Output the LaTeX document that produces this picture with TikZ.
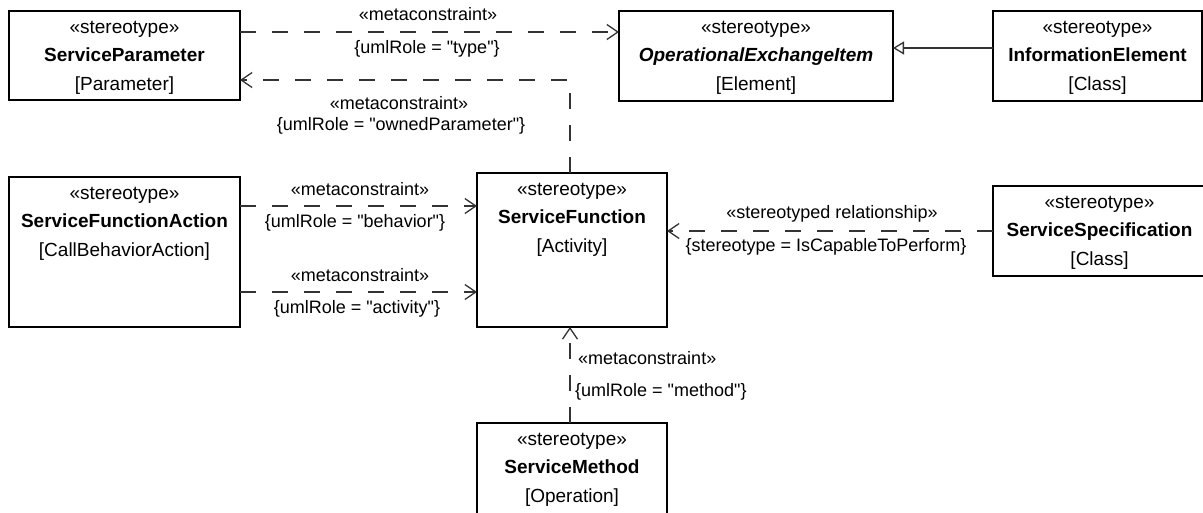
\documentclass[tikz,border=0pt]{standalone}
\usepackage{fontspec}
\setmainfont{Liberation Sans}[Ligatures=TeXOff]
\usetikzlibrary{arrows.meta,calc}
\begin{document}
\begin{tikzpicture}[x=1pt,y=-1pt,
  box/.style={draw=black, line width=1.4pt, rectangle, inner sep=0pt, outer sep=0pt},
  boxtext/.style={anchor=base, inner sep=0pt, font=\fontsize{19}{28.5}\selectfont},
  lbl/.style={inner sep=0pt, font=\fontsize{18}{22}\selectfont},
  dep/.style={draw=black!80, line width=1.3pt, dash pattern=on 16pt off 16pt, -{Straight Barb[length=11pt,width=15pt]}},
  gen/.style={draw=black!80, line width=1.3pt, -{Triangle[open,length=11pt,width=13pt]}}]

\useasboundingbox (0,0) rectangle (1203,512);

% boxes
\node[box, minimum width=231pt, minimum height=89pt] (sp) at (124.5,55.5) {};
\node[box, minimum width=274pt, minimum height=90pt] (oei) at (756,56) {};
\node[box, minimum width=209pt, minimum height=90pt] (ie) at (1097.5,56) {};
\node[box, minimum width=231pt, minimum height=150pt] (sfa) at (124.5,252) {};
\node[box, minimum width=190pt, minimum height=154pt] (sf) at (572,250) {};
\node[box, minimum width=213pt, minimum height=90pt] (ss) at (1099.5,231) {};
\node[box, minimum width=190pt, minimum height=92pt] (sm) at (572,469) {};

% box texts
\node[boxtext] (spT) at ([yshift=-22pt]sp.north) {\begin{tabular}[t]{@{}c@{}}«stereotype»\\\textbf{ServiceParameter}\\ {[Parameter]}\end{tabular}};
\node[boxtext] (oeiT) at ([yshift=-22pt]oei.north) {\begin{tabular}[t]{@{}c@{}}«stereotype»\\\textbf{\textit{OperationalExchangeItem}}\\ {[Element]}\end{tabular}};
\node[boxtext] (ieT) at ([yshift=-22pt]ie.north) {\begin{tabular}[t]{@{}c@{}}«stereotype»\\\textbf{InformationElement}\\ {[Class]}\end{tabular}};
\node[boxtext] (sfaT) at ([yshift=-22pt]sfa.north) {\begin{tabular}[t]{@{}c@{}}«stereotype»\\\textbf{ServiceFunctionAction}\\ {[CallBehaviorAction]}\end{tabular}};
\node[boxtext] (sfT) at ([yshift=-22pt]sf.north) {\begin{tabular}[t]{@{}c@{}}«stereotype»\\\textbf{ServiceFunction}\\ {[Activity]}\end{tabular}};
\node[boxtext] (ssT) at ([yshift=-22pt]ss.north) {\begin{tabular}[t]{@{}c@{}}«stereotype»\\\textbf{ServiceSpecification}\\ {[Class]}\end{tabular}};
\node[boxtext] (smT) at ([yshift=-22pt]sm.north) {\begin{tabular}[t]{@{}c@{}}«stereotype»\\\textbf{ServiceMethod}\\ {[Operation]}\end{tabular}};

% connectors
\draw[dep] ([yshift=-21pt]sp.north east) -- ([yshift=-21pt]oei.north west);
\draw[dep] ([xshift=-2pt]sf.north) |- ([yshift=-69pt]sp.north east);
\draw[dep] ([yshift=-29pt]sfa.north east) -- ([yshift=-33pt]sf.north west);
\draw[dep] ([yshift=-115pt]sfa.north east) -- ([yshift=-119pt]sf.north west);
\draw[dep] ([yshift=-45pt]ss.north west) -- ([yshift=-58pt]sf.north east);
\draw[dep] ([xshift=-2pt]sm.north) -- ([xshift=-2pt]sf.south);
\draw[gen] ([yshift=-37pt]ie.north west) -- ([yshift=-37pt]oei.north east);

% labels
\node[lbl] (l1a) at (428,14) {«metaconstraint»};
\node[lbl] (l1b) at (427,49) {\{umlRole = "type"\}};
\node[lbl] (l2a) at (399,103) {«metaconstraint»};
\node[lbl] (l2b) at (401,126) {\{umlRole = "ownedParameter"\}};
\node[lbl] (l3a) at (360,189) {«metaconstraint»};
\node[lbl] (l3b) at (355,223) {\{umlRole = "behavior"\}};
\node[lbl] (l4a) at (360,275) {«metaconstraint»};
\node[lbl] (l4b) at (357,309) {\{umlRole = "activity"\}};
\node[lbl] (l5a) at (832,214) {«stereotyped relationship»};
\node[lbl] (l5b) at (826,247) {\{stereotype = IsCapableToPerform\}};
\node[lbl, anchor=west] (l6a) at (578,358) {«metaconstraint»};
\node[lbl, anchor=west] (l6b) at (575,392) {\{umlRole = "method"\}};
\end{tikzpicture}
\end{document}
